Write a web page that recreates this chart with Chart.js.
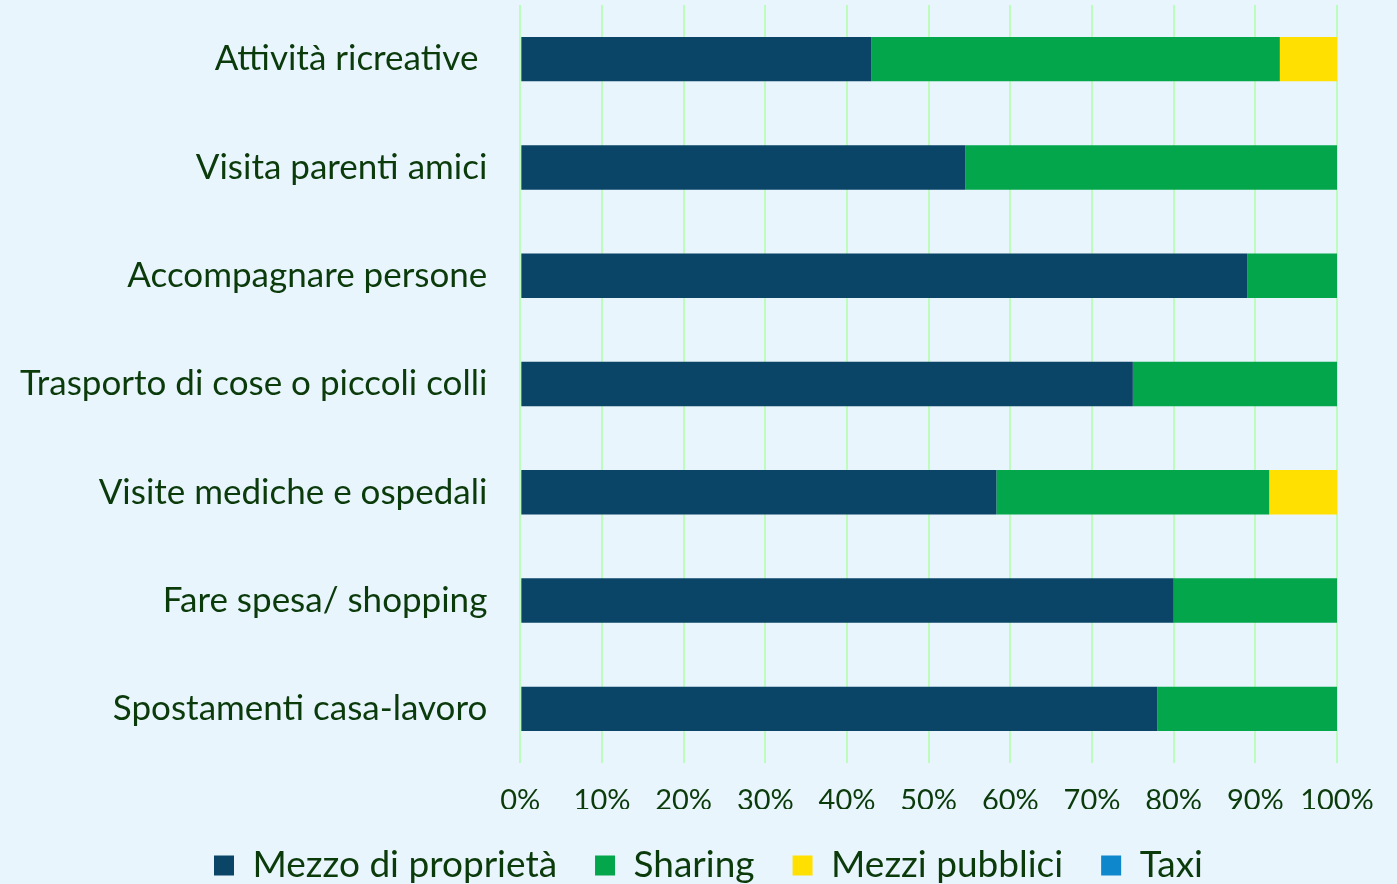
<!DOCTYPE html>
<html><head><meta charset="utf-8">
<script src="https://cdn.jsdelivr.net/npm/chart.js@4.4.1/dist/chart.umd.min.js"></script>
<style>html,body{margin:0;padding:0;background:#E8F5FD;}#wrap{width:1397px;height:884px;position:relative;}</style>
</head><body><div id="wrap"><canvas id="c"></canvas></div>
<script>
const categories = ["Attività ricreative ", "Visita parenti amici", "Accompagnare persone", "Trasporto di cose o piccoli colli", "Visite mediche e ospedali", "Fare spesa/ shopping", "Spostamenti casa-lavoro"];
const seriesNames = ["Mezzo di proprietà", "Sharing", "Mezzi pubblici", "Taxi"];
const mezzoProprieta = [43, 54.5, 89, 75, 58.3, 80, 78];
const sharing = [50, 45.5, 11, 25, 33.4, 20, 22];
const mezziPubblici = [7, 0, 0, 0, 8.3, 0, 0];
const taxi = [0, 0, 0, 0, 0, 0, 0];
const xTicks = [0,10,20,30,40,50,60,70,80,90,100];
const colors = ["#0A4466", "#03A64A", "#FFE000", "#0E87CC"];
const txt = "#0B3A0B";
const font = "Lato, 'Open Sans', sans-serif";
const data = [mezzoProprieta, sharing, mezziPubblici, taxi];
new Chart(document.getElementById('c'), {
  type: 'bar',
  data: {
    labels: categories,
    datasets: seriesNames.map((n,i)=>({label:n, data:data[i], backgroundColor:colors[i], categoryPercentage:1, barPercentage:0.41, borderWidth:0}))
  },
  options: {
    indexAxis: 'y', responsive: true, maintainAspectRatio: false, animation: false,
    layout: {padding: {left: 20, right: 0, top: 5, bottom: -10}},
    plugins: {
      tooltip: {enabled:false},
      legend: {position:'bottom', labels:{color:txt, font:{family:font, size:37}, boxWidth:20, boxHeight:20, padding:38}}
    },
    scales: {
      x: {stacked:true, min:0, max:100,
        afterBuildTicks: s => { s.ticks = xTicks.map(v=>({value:v})); },
        afterFit: s => { s.height = 46; s.paddingRight = 60; s.paddingLeft = 0; },
        ticks:{color:txt, font:{family:font, size:29}, callback:v=>v+'%', padding:20, maxRotation:0},
        grid:{color:'#BEFCBE', lineWidth:2, drawTicks:false}, border:{display:false}},
      y: {stacked:true,
        afterFit: s => { s.paddingTop = 0; s.paddingBottom = 0; },
        ticks:{color:txt, font:{family:font, size:35}, padding:0},
        grid:{display:true, drawOnChartArea:false, drawTicks:true, tickLength:33, color:'rgba(0,0,0,0)'}, border:{display:false}}
    }
  }
});
</script></body></html>
